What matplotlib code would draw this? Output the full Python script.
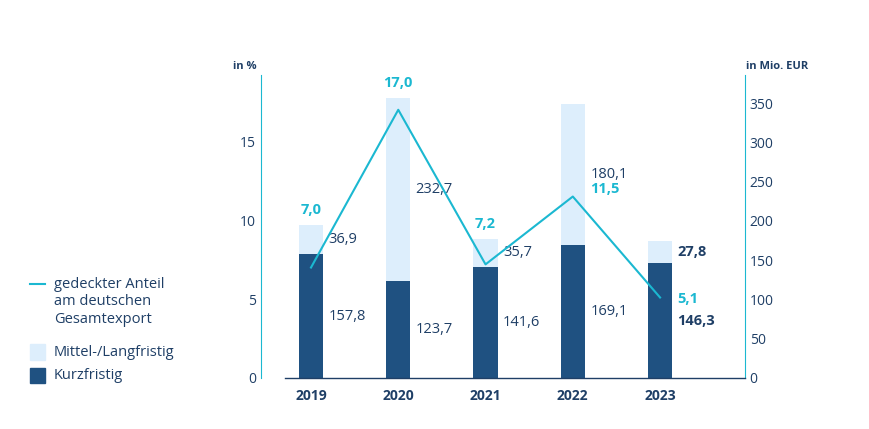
import matplotlib.pyplot as plt
from matplotlib.patches import Rectangle
from matplotlib.lines import Line2D

years = ["2019", "2020", "2021", "2022", "2023"]
kurz = [157.8, 123.7, 141.6, 169.1, 146.3]
mittel = [36.9, 232.7, 35.7, 180.1, 27.8]
anteil = [7.0, 17.0, 7.2, 11.5, 5.1]

DARK = "#1f5181"
LIGHT = "#ddeefc"
CYAN = "#1bb8d1"
TXT = "#1f3f66"
plt.rcParams["font.family"] = "Open Sans"

fig = plt.figure(figsize=(8.7, 4.29), dpi=100)
ax = fig.add_axes([0.3, 0.119, 0.556, 0.706])
ax2 = ax.twinx()
x = list(range(len(years)))
ax2.bar(x, kurz, width=0.28, color=DARK)
ax2.bar(x, mittel, width=0.28, bottom=kurz, color=LIGHT)
ax.plot(x, anteil, color=CYAN, lw=1.5, zorder=5)
ax.set_zorder(ax2.get_zorder() + 1)
ax.patch.set_visible(False)

ax.set_xlim(-0.573, 4.97)
ax.set_ylim(0, 19.2)
ax2.set_ylim(0, 19.2 * 20.1)
ax.set_yticks([0, 5, 10, 15])
ax2.set_yticks(range(0, 351, 50))
ax.set_xticks(x)
ax.set_xticklabels(years, fontweight="bold", fontsize=10, color=TXT)
for a in (ax, ax2):
    for s in ("top", "bottom"):
        a.spines[s].set_visible(False)
    a.tick_params(length=0, labelsize=10, colors=TXT)
ax.spines["right"].set_visible(False)
ax2.spines["left"].set_visible(False)
ax.spines["left"].set_color(CYAN)
ax2.spines["right"].set_color(CYAN)
ax.tick_params(axis="x", pad=8)
ax.plot([-0.3, 4.97], [0, 0], color=TXT, lw=1, clip_on=False)
ax.text(-0.62, 19.6, "in %", ha="right", fontsize=8, fontweight="bold", color=TXT)
ax2.text(4.98, 19.6 * 20.1, "in Mio. EUR", ha="left", fontsize=8, fontweight="bold", color=TXT)

for i in x:
    fw = "bold" if i == 4 else "normal"
    ax2.text(i + 0.2, kurz[i] / 2, f"{kurz[i]:.1f}".replace(".", ","), va="center", fontsize=10.5, color=TXT, fontweight=fw)
    ax2.text(i + 0.2, kurz[i] + mittel[i] / 2, f"{mittel[i]:.1f}".replace(".", ","), va="center", fontsize=10.5, color=TXT, fontweight=fw)
    lab = f"{anteil[i]:.1f}".replace(".", ",")
    top = (kurz[i] + mittel[i]) / 20.1
    if i in (0, 1, 2):
        ax.text(i, top + 0.5, lab, ha="center", va="bottom", fontsize=10.5, color=CYAN, fontweight="bold")
    elif i == 3:
        ax.text(i + 0.2, anteil[i] + 0.5, lab, va="center", fontsize=10.5, color=CYAN, fontweight="bold")
    else:
        ax.text(i + 0.2, anteil[i] - 0.1, lab, va="center", fontsize=10.5, color=CYAN, fontweight="bold")

# legend
fig.add_artist(Line2D([0.034, 0.052], [0.34 + 0.0 + 0.0 + 0.0 + 0.0 + 0.0 + 0.0 + 0.0 + 0.0 + 0.0 + 0.0 + 0.0 + 0.0 + 0.0 + 0.0 + 0.0 + 0.0 + 0.0 + 0.0 + 0.0 + 0.0 + 0.0 + 0.0 + 0.0 + 0.0 + 0.0 + 0.0 + 0.0 + 0.0 + 0.0 + 0.0 + 0.0 + 0.0 + 0.0 + 0.0 + 0.0 + 0.0 + 0.0 + 0.0 + 0.0 + 0.0 + 0.0 + 0.0 + 0.0 + 0.0 + 0.0 + 0.0 + 0.0 + 0.0 + 0.0 + 0.0 + 0.0 + 0.0 + 0.0 + 0.0 + 0.0 + 0.0 + 0.0 + 0.0 + 0.0 + 0.0 + 0.0 + 0.0 + 0.0 + 0.0 + 0.0 + 0.0 + 0.0 + 0.0 + 0.0 + 0.0 + 0.0 + 0.0 + 0.0 + 0.0 + 0.0 + 0.0 + 0.0 + 0.0 + 0.0 + 0.0 + 0.0 + 0.0 + 0.0 + 0.0 + 0.0 + 0.0 + 0.0 + 0.0 + 0.0 + 0.0 + 0.0 + 0.0 + 0.0 + 0.0 + 0.0 + 0.0 + 0.0 + 0.0 + 0.0 + 0.0 + 0.0 + 0.0 + 0.0 + 0.0 + 0.0 + 0.0 + 0.0 + 0.0 + 0.0 + 0.0 + 0.3] [0:0] or [0.337, 0.337], color=CYAN, lw=1.5))
fig.text(0.062, 0.337, "gedeckter Anteil\nam deutschen\nGesamtexport", va="top", fontsize=10.5, color=TXT, linespacing=1.25, transform=fig.transFigure) if False else fig.text(0.062, 0.355, "gedeckter Anteil\nam deutschen\nGesamtexport", va="top", fontsize=10.5, color=TXT, linespacing=1.25)
fig.add_artist(Rectangle((0.034, 0.162), 0.018, 0.035, color=LIGHT, transform=fig.transFigure))
fig.text(0.062, 0.179, "Mittel-/Langfristig", va="center", fontsize=10.5, color=TXT)
fig.add_artist(Rectangle((0.034, 0.107), 0.018, 0.035, color=DARK, transform=fig.transFigure))
fig.text(0.062, 0.124, "Kurzfristig", va="center", fontsize=10.5, color=TXT)

fig.savefig("out.png", dpi=100)
